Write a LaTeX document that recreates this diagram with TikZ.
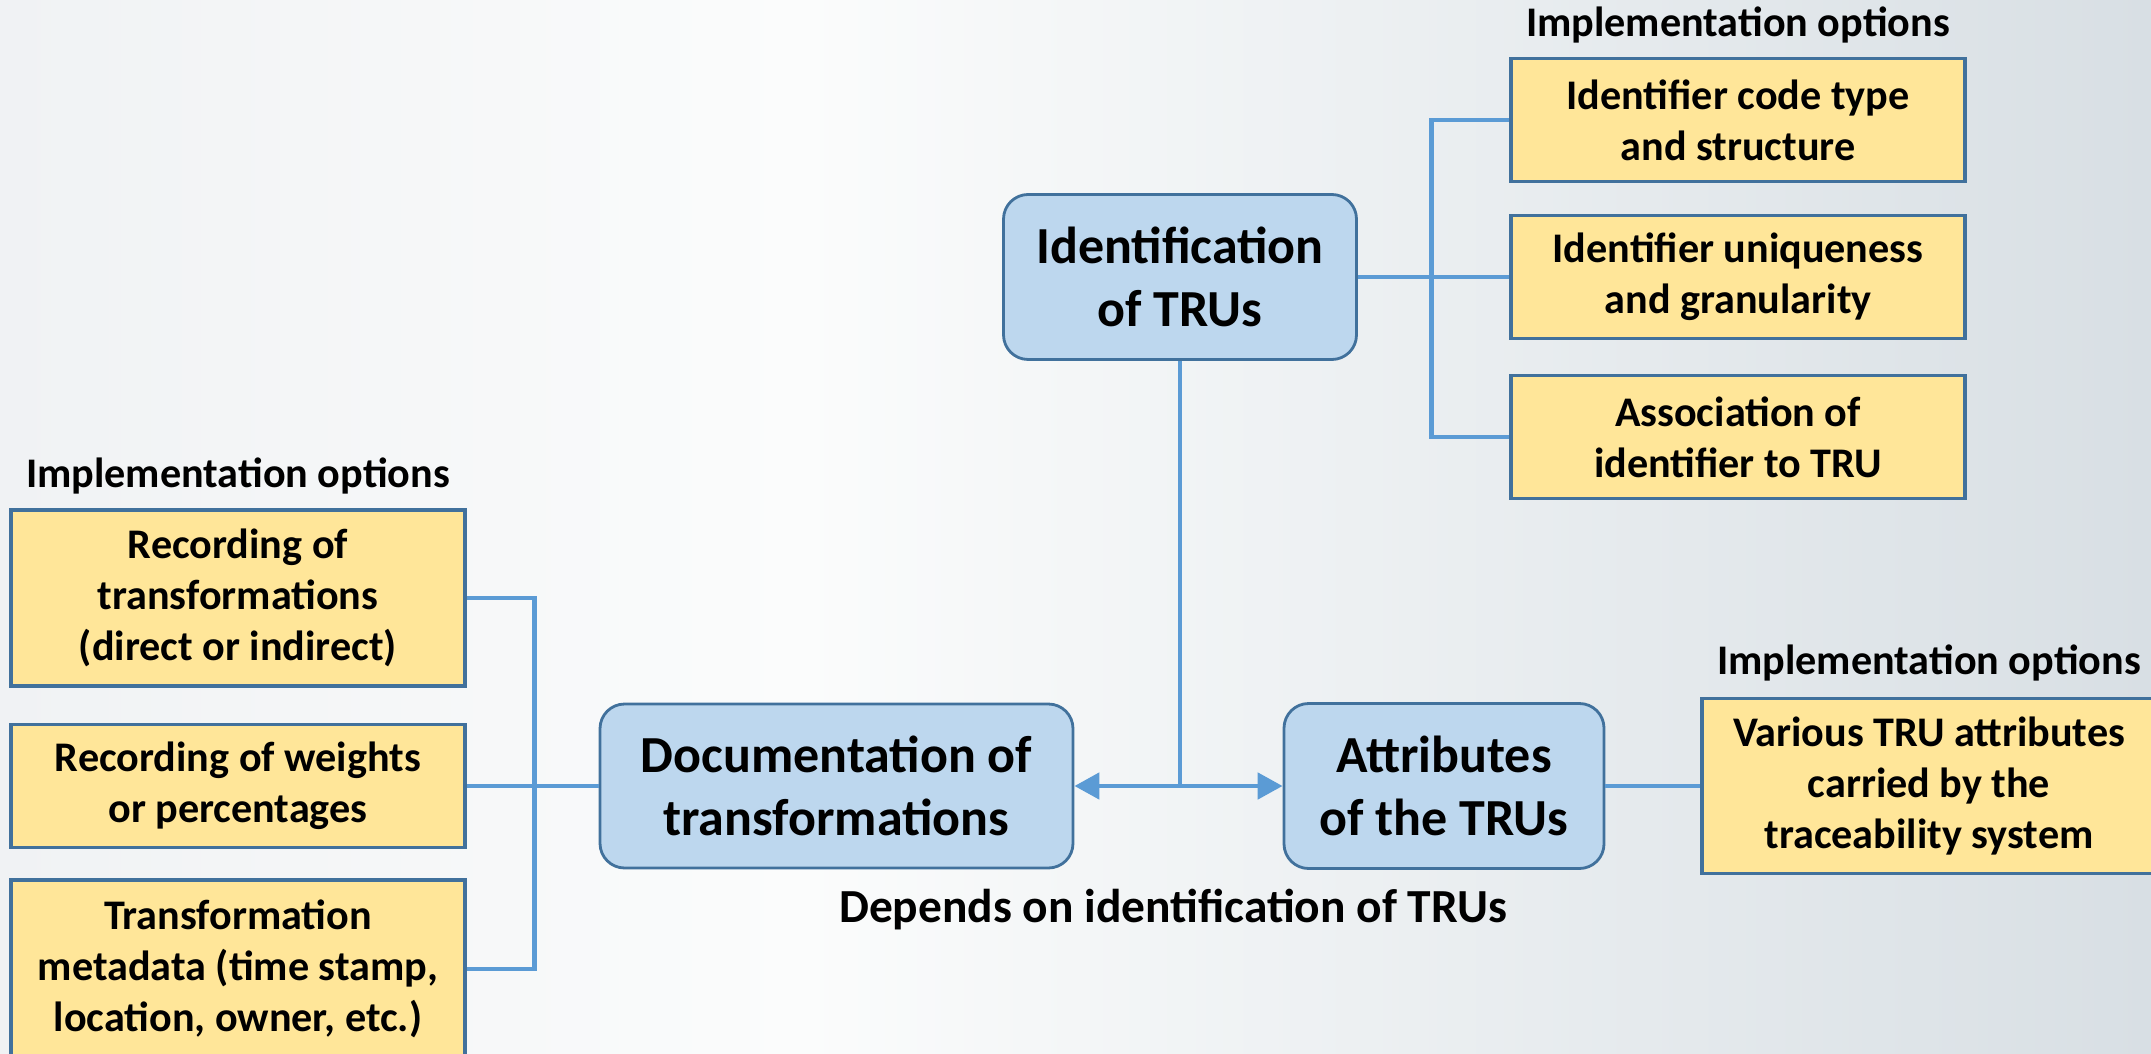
\documentclass[tikz,border=0pt]{standalone}
\usepackage{fontspec}
\setmainfont{Carlito}
\usepackage{tikz}
\usetikzlibrary{
    arrows.meta,
    positioning,
    calc
}
\definecolor{trufill}{HTML}{BDD7EE}
\definecolor{truedge}{HTML}{41719C}
\definecolor{optfill}{HTML}{FFE699}
\definecolor{optedge}{HTML}{41719C}
\definecolor{linkblue}{HTML}{5B9BD5}
\definecolor{bgleft}{HTML}{F0F2F4}
\definecolor{bgmid}{HTML}{FBFCFC}
\definecolor{bgright}{HTML}{D8DFE4}
\tikzset{
    % Main TRU topic box
    trubox/.style={
        rectangle,
        rounded corners=7pt,
        draw=truedge,
        fill=trufill,
        line width=0.8pt,
        text=black,
        font=\fontsize{14.8}{17.9}\selectfont\bfseries,
        align=center,
        inner sep=2pt
    },
    % Implementation option box
    optbox/.style={
        rectangle,
        draw=optedge,
        fill=optfill,
        line width=0.9pt,
        text=black,
        minimum width=4.54cm,
        minimum height=#1,
        font=\fontsize{12}{14.6}\selectfont\bfseries,
        align=center,
        inner sep=2pt
    },
    optbox/.default=1.23cm,
    % Heading over a group of options
    optlabel/.style={
        font=\fontsize{12}{14}\selectfont\bfseries,
        inner sep=0pt
    },
    % Connector lines
    link/.style={
        draw=linkblue,
        line width=1.4pt
    },
    linkarrow/.style={
        link,
        -{Triangle[length=2.5mm, width=2.6mm]}
    }
}
\begin{document}
\begin{tikzpicture}

    % Page frame and background
    \useasboundingbox (0,0) rectangle (21.51,10.53);
    \clip (0,0) rectangle (21.51,10.53);
    \shade[left color=bgleft, right color=bgmid] (0,0) rectangle (8,10.53);
    \shade[left color=bgmid, right color=bgright] (8,0) rectangle (21.51,10.53);

    % Main topics
    \node[trubox, minimum width=3.53cm, minimum height=1.65cm] (ident) at (11.80, 7.76) {Identification\\of TRUs};
    \node[trubox, minimum width=4.73cm, minimum height=1.64cm] (doc) at (8.365, 2.67) {Documentation of\\transformations};
    \node[trubox, minimum width=3.20cm, minimum height=1.65cm] (attr) at (14.44, 2.67) {Attributes\\of the TRUs};

    % Options for identification
    \node[optbox] (idcode) at (17.38, 9.33) {Identifier code type\\and structure};
    \node[optbox] (idunique) at (17.38, 7.76) {Identifier uniqueness\\and granularity};
    \node[optbox] (idassoc) at (17.38, 6.16) {Association of\\identifier to TRU};
    \node[optlabel, above=0.13cm of idcode] (idlabel) {Implementation options};

    % Options for documentation
    \node[optbox=1.76cm] (recdirect) at (2.38, 4.55) {Recording of\\transformations\\(direct or indirect)};
    \node[optbox] (recweight) at (2.38, 2.67) {Recording of weights\\or percentages};
    \node[optbox=1.78cm] (recmeta) at (2.38, 0.84) {Transformation\\metadata (time stamp,\\location, owner, etc.)};
    \node[optlabel, above=0.14cm of recdirect] (doclabel) {Implementation options};

    % Options for attributes
    \node[optbox=1.75cm] (attrvarious) at (19.29, 2.67) {Various TRU attributes\\carried by the\\traceability system};
    \node[optlabel, above=0.15cm of attrvarious] (attrlabel) {Implementation options};

    % Dependency note
    \node[font=\fontsize{13.5}{16}\selectfont\bfseries] (depends) at (11.73, 1.43) {Depends on identification of TRUs};

    % Brackets to the options
    \draw[link] (ident.east) -- (idunique.west);
    \draw[link] (idcode.west) -- ++(-0.775,0) |- (idassoc.west);
    \draw[link] (doc.west) -- (recweight.east);
    \draw[link] (recdirect.east) -- ++(0.68,0) |- (recmeta.east);
    \draw[link] (attr.east) -- (attrvarious.west);

    % Identification feeds both other topics
    \draw[link] (ident.south) -- (ident.south |- doc.east) coordinate (split);
    \draw[linkarrow] (split) -- (doc.east);
    \draw[linkarrow] (split) -- (attr.west);

\end{tikzpicture}
\end{document}
